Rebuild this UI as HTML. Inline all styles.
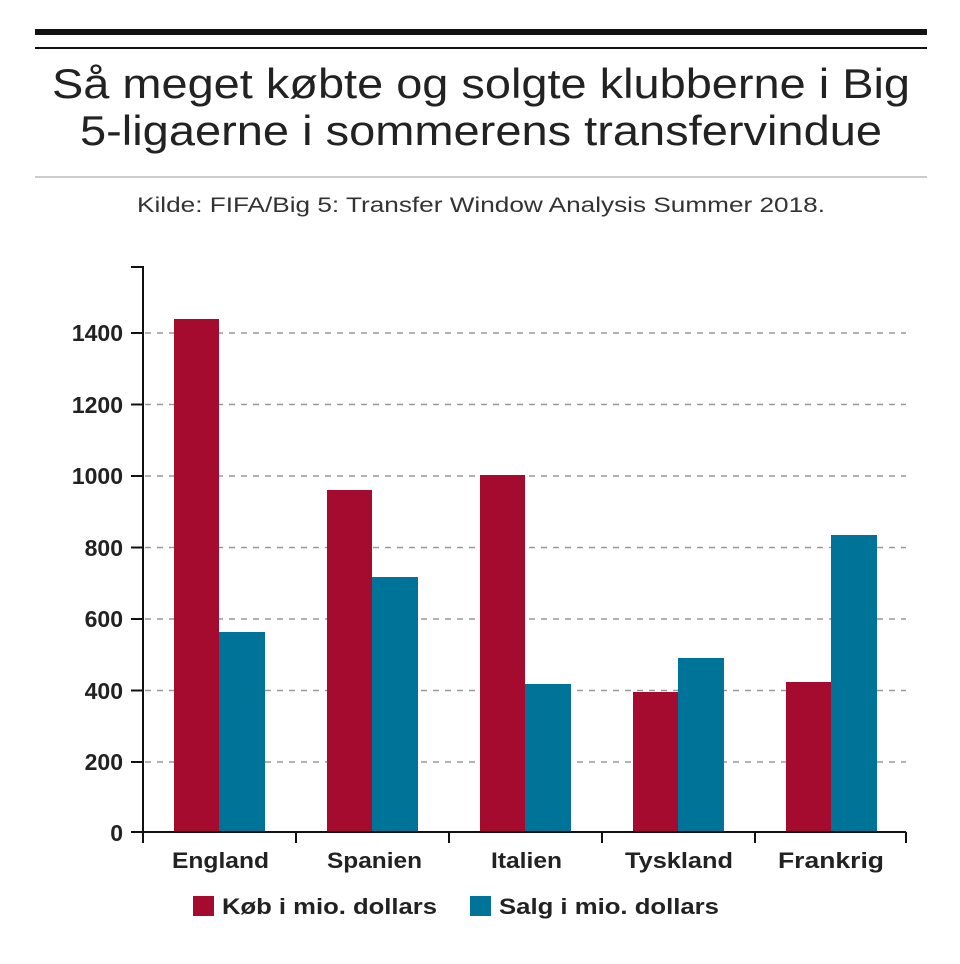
<!DOCTYPE html><html><head><style>body{margin:0;background:#fff}svg{display:block}</style></head><body>
<svg width="960" height="964" xmlns="http://www.w3.org/2000/svg" font-family="Liberation Sans, Arial, sans-serif">
<rect x="35" y="29" width="892" height="6" fill="#111"/>
<rect x="35" y="47" width="892" height="2" fill="#111"/>
<text x="52" y="98" font-size="42" textLength="858" lengthAdjust="spacingAndGlyphs" fill="#222">Så meget købte og solgte klubberne i Big</text>
<text x="80" y="145" font-size="42" textLength="802" lengthAdjust="spacingAndGlyphs" fill="#222">5-ligaerne i sommerens transfervindue</text>
<rect x="35" y="176" width="892" height="2" fill="#ccc"/>
<text x="137" y="212" font-size="21" textLength="688" lengthAdjust="spacingAndGlyphs" fill="#333">Kilde: FIFA/Big 5: Transfer Window Analysis Summer 2018.</text>
<g stroke="#999" stroke-width="1.5" stroke-dasharray="6,6">
<line x1="145" x2="906" y1="333" y2="333"/><line x1="145" x2="906" y1="404.5" y2="404.5"/><line x1="145" x2="906" y1="476" y2="476"/><line x1="145" x2="906" y1="547.5" y2="547.5"/><line x1="145" x2="906" y1="619" y2="619"/><line x1="145" x2="906" y1="690.5" y2="690.5"/><line x1="145" x2="906" y1="762" y2="762"/>
</g>
<g fill="#a50b2e">
<rect x="174" y="319" width="45" height="513"/><rect x="327" y="490" width="45" height="342"/><rect x="480" y="475" width="45" height="357"/><rect x="633" y="692" width="45" height="140"/><rect x="786" y="682" width="45" height="150"/>
</g>
<g fill="#007399">
<rect x="219" y="632" width="46" height="200"/><rect x="372" y="577" width="46" height="255"/><rect x="525" y="684" width="46" height="148"/><rect x="678" y="658" width="46" height="174"/><rect x="831" y="535" width="46" height="297"/>
</g>
<g stroke="#111" stroke-width="2" fill="none">
<path d="M131 267H143V832"/><path d="M143 832H906"/>
<path d="M131 333H143M131 404.5H143M131 476H143M131 547.5H143M131 619H143M131 690.5H143M131 762H143M131 832H143"/>
<path d="M143 832V843M296 832V843M449 832V843M602 832V843M755 832V843M906 832V843"/>
</g>
<g font-size="23" font-weight="bold" fill="#222" text-anchor="end">
<text x="123" y="341">1400</text><text x="123" y="413">1200</text><text x="123" y="484">1000</text><text x="123" y="556">800</text><text x="123" y="627">600</text><text x="123" y="699">400</text><text x="123" y="770">200</text><text x="123" y="841">0</text>
</g>
<g font-size="22" font-weight="bold" fill="#222">
<text x="172" y="868" textLength="97" lengthAdjust="spacingAndGlyphs">England</text>
<text x="327" y="868" textLength="95" lengthAdjust="spacingAndGlyphs">Spanien</text>
<text x="491" y="868" textLength="71" lengthAdjust="spacingAndGlyphs">Italien</text>
<text x="625" y="868" textLength="108" lengthAdjust="spacingAndGlyphs">Tyskland</text>
<text x="778" y="868" textLength="106" lengthAdjust="spacingAndGlyphs">Frankrig</text>
</g>
<rect x="193" y="896" width="21" height="20" fill="#a50b2e"/>
<text x="222" y="914" font-size="22" font-weight="bold" fill="#222" textLength="215" lengthAdjust="spacingAndGlyphs">Køb i mio. dollars</text>
<rect x="470" y="896" width="21" height="20" fill="#007399"/>
<text x="499" y="914" font-size="22" font-weight="bold" fill="#222" textLength="220" lengthAdjust="spacingAndGlyphs">Salg i mio. dollars</text>
</svg></body></html>
